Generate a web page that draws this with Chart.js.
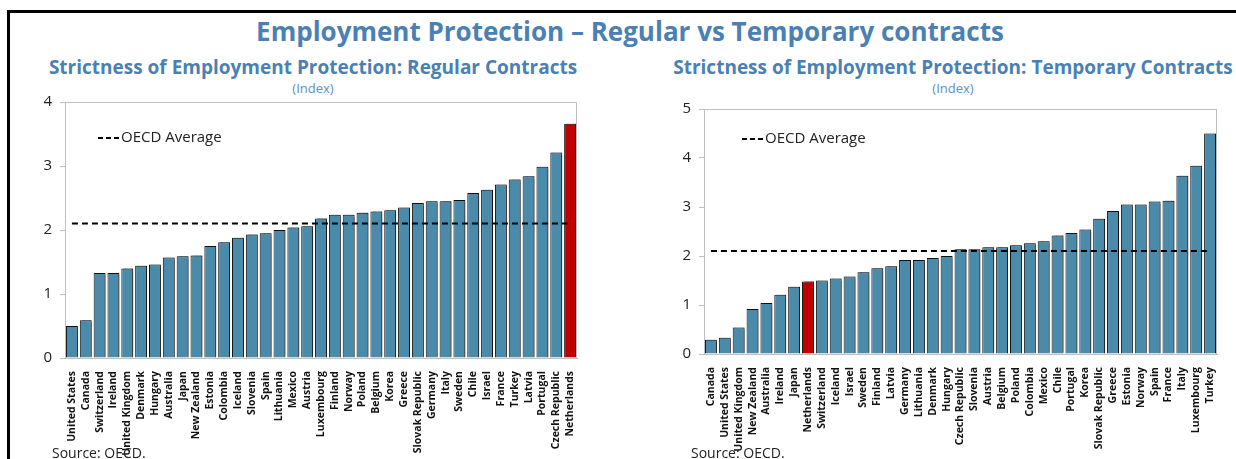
<!DOCTYPE html>
<html>
<head>
<meta charset="utf-8">
<script src="https://cdn.jsdelivr.net/npm/chart.js@4/dist/chart.umd.min.js"></script>
<style>
  body { margin: 0; background: #fff; font-family: 'Open Sans', sans-serif; }
  .page { position: relative; width: 1236px; height: 459px; overflow: hidden; }
  .frame { position: absolute; left: 7px; top: 10px; width: 1240px; height: 460px;
           border-top: 3px solid #000; border-left: 3px solid #000; }
  .title { position: absolute; left: 0; width: 1260px; top: 13px; text-align: center;
           font-size: 26px; font-weight: 700; color: #4a80b4; }
  .sub { position: absolute; top: 54px; font-size: 19px; font-weight: 700; color: #4a80b4; text-align: center; }
  .idx { position: absolute; top: 79px; font-size: 13px; color: #5b8fc9; text-align: center; }
  .src { position: absolute; top: 443px; font-size: 14px; color: #222; }
  .box { position: absolute; }
</style>
</head>
<body>
<div class="page">
  <div class="frame"></div>
  <div class="title">Employment Protection – Regular vs Temporary contracts</div>
  <div class="sub" style="left:30px;width:566px">Strictness of Employment Protection: Regular Contracts</div>
  <div class="idx" style="left:30px;width:566px">(Index)</div>
  <div class="sub" style="left:660px;width:586px">Strictness of Employment Protection: Temporary Contracts</div>
  <div class="idx" style="left:660px;width:586px">(Index)</div>
  <div class="box" style="left:20px;top:85px;width:570px;height:373px"><canvas id="regular"></canvas></div>
  <div class="box" style="left:659px;top:92px;width:571px;height:362px"><canvas id="temporary"></canvas></div>
  <div class="src" style="left:52px">Source: OECD.</div>
  <div class="src" style="left:691px">Source: OECD.</div>
</div>
<script>
const regularLabels = ['United States', 'Canada', 'Switzerland', 'Ireland', 'United Kingdom', 'Denmark', 'Hungary', 'Australia', 'Japan', 'New Zealand', 'Estonia', 'Colombia', 'Iceland', 'Slovenia', 'Spain', 'Lithuania', 'Mexico', 'Austria', 'Luxembourg', 'Finland', 'Norway', 'Poland', 'Belgium', 'Korea', 'Greece', 'Slovak Republic', 'Germany', 'Italy', 'Sweden', 'Chile', 'Israel', 'France', 'Turkey', 'Latvia', 'Portugal', 'Czech Republic', 'Netherlands']
const regularValues = [0.50, 0.59, 1.33, 1.33, 1.40, 1.44, 1.46, 1.57, 1.59, 1.60, 1.75, 1.81, 1.88, 1.93, 1.95, 2.00, 2.04, 2.06, 2.18, 2.24, 2.24, 2.27, 2.29, 2.31, 2.35, 2.42, 2.45, 2.45, 2.47, 2.58, 2.63, 2.71, 2.79, 2.84, 2.99, 3.21, 3.66]
const regularAverage = 2.1

const temporaryLabels = ['Canada', 'United States', 'United Kingdom', 'New Zealand', 'Australia', 'Ireland', 'Japan', 'Netherlands', 'Switzerland', 'Iceland', 'Israel', 'Sweden', 'Finland', 'Latvia', 'Germany', 'Lithuania', 'Denmark', 'Hungary', 'Czech Republic', 'Slovenia', 'Austria', 'Belgium', 'Poland', 'Colombia', 'Mexico', 'Chile', 'Portugal', 'Korea', 'Slovak Republic', 'Greece', 'Estonia', 'Norway', 'Spain', 'France', 'Italy', 'Luxembourg', 'Turkey']
const temporaryValues = [0.29, 0.33, 0.54, 0.92, 1.04, 1.21, 1.37, 1.48, 1.50, 1.54, 1.58, 1.67, 1.75, 1.79, 1.92, 1.92, 1.96, 2.00, 2.14, 2.14, 2.18, 2.18, 2.22, 2.26, 2.30, 2.42, 2.47, 2.54, 2.76, 2.92, 3.05, 3.05, 3.11, 3.13, 3.64, 3.84, 4.50]
const temporaryAverage = 2.1

const highlight = 'Netherlands'
const barBlue = '#4a8aab'
const barRed = '#c00000'
const axisGrey = '#bfbfbf'

// grey box round the plot area + the little "---OECD Average" key
const plotExtras = {
    id : 'plotExtras',
    beforeDatasetDraw(chart, args){
        // soft grey shadow behind the bars, like the original
        if(args.meta.type == 'bar'){
            const ctx = chart.ctx
            ctx.save()
            ctx.shadowColor = 'rgba(0,0,0,0.35)'
            ctx.shadowOffsetX = 2
            ctx.shadowOffsetY = -1
            ctx.shadowBlur = 1
        }
    },
    afterDatasetDraw(chart, args){
        if(args.meta.type == 'bar') chart.ctx.restore()
    },
    afterDraw(chart, args, opts){
        const {ctx, chartArea} = chart
        ctx.save()
        ctx.strokeStyle = axisGrey
        ctx.lineWidth = 1
        ctx.strokeRect(chartArea.left + 0.5, chartArea.top + 0.5, chartArea.width - 1, chartArea.height)
        const x = chartArea.left + opts.dx
        const y = chartArea.top + opts.dy
        ctx.strokeStyle = '#000'
        ctx.lineWidth = 2
        ctx.setLineDash([5, 3])
        ctx.beginPath()
        ctx.moveTo(x, y)
        ctx.lineTo(x + 22, y)
        ctx.stroke()
        ctx.setLineDash([])
        ctx.fillStyle = '#222'
        ctx.font = "15px 'Open Sans'"
        ctx.textBaseline = 'middle'
        ctx.fillText('OECD Average', x + 23, y)
        ctx.restore()
    }
}

function makeChart(canvas, labels, values, average, yMax, keyPos){
    return new Chart(canvas, {
        data : {
            labels : labels,
            datasets : [
                {
                    type : 'line',
                    data : [{x : labels[0], y : average}, {x : labels[labels.length-1], y : average}],
                    borderColor : '#000',
                    borderWidth : 2,
                    borderDash : [6, 4],
                    pointRadius : 0,
                    order : 0
                },
                {
                    type : 'bar',
                    data : values,
                    backgroundColor : labels.map(l => l == highlight ? barRed : barBlue),
                    borderColor : '#111',
                    borderWidth : 1,
                    categoryPercentage : 1,
                    barPercentage : 0.86,
                    order : 1
                }
            ]
        },
        plugins : [plotExtras],
        options : {
            responsive : true,
            maintainAspectRatio : false,
            animation : false,
            layout : {padding : {top : 0, right : 13, bottom : 0, left : 0}},
            plugins : {
                legend : {display : false},
                tooltip : {enabled : false},
                plotExtras : keyPos
            },
            scales : {
                x : {
                    grid : {display : false},
                    border : {display : true, color : axisGrey},
                    ticks : {
                        autoSkip : false,
                        minRotation : 90,
                        maxRotation : 90,
                        padding : 5,
                        color : '#111',
                        font : {family : "'Open Sans'", size : 10.5, weight : 'bold'}
                    },
                    afterFit : s => { s.height = 100 }
                },
                y : {
                    min : 0,
                    max : yMax,
                    grid : {drawOnChartArea : false, tickLength : 5, color : axisGrey},
                    border : {color : axisGrey},
                    ticks : {
                        stepSize : 1,
                        padding : 8,
                        color : '#222',
                        font : {family : "'Open Sans'", size : 15}
                    },
                    afterFit : s => { s.width = 45 }
                }
            }
        }
    })
}

makeChart(document.getElementById('regular'), regularLabels, regularValues, regularAverage, 4, {dx : 33, dy : 36})
makeChart(document.getElementById('temporary'), temporaryLabels, temporaryValues, temporaryAverage, 5, {dx : 38, dy : 30})
</script>
</body>
</html>
